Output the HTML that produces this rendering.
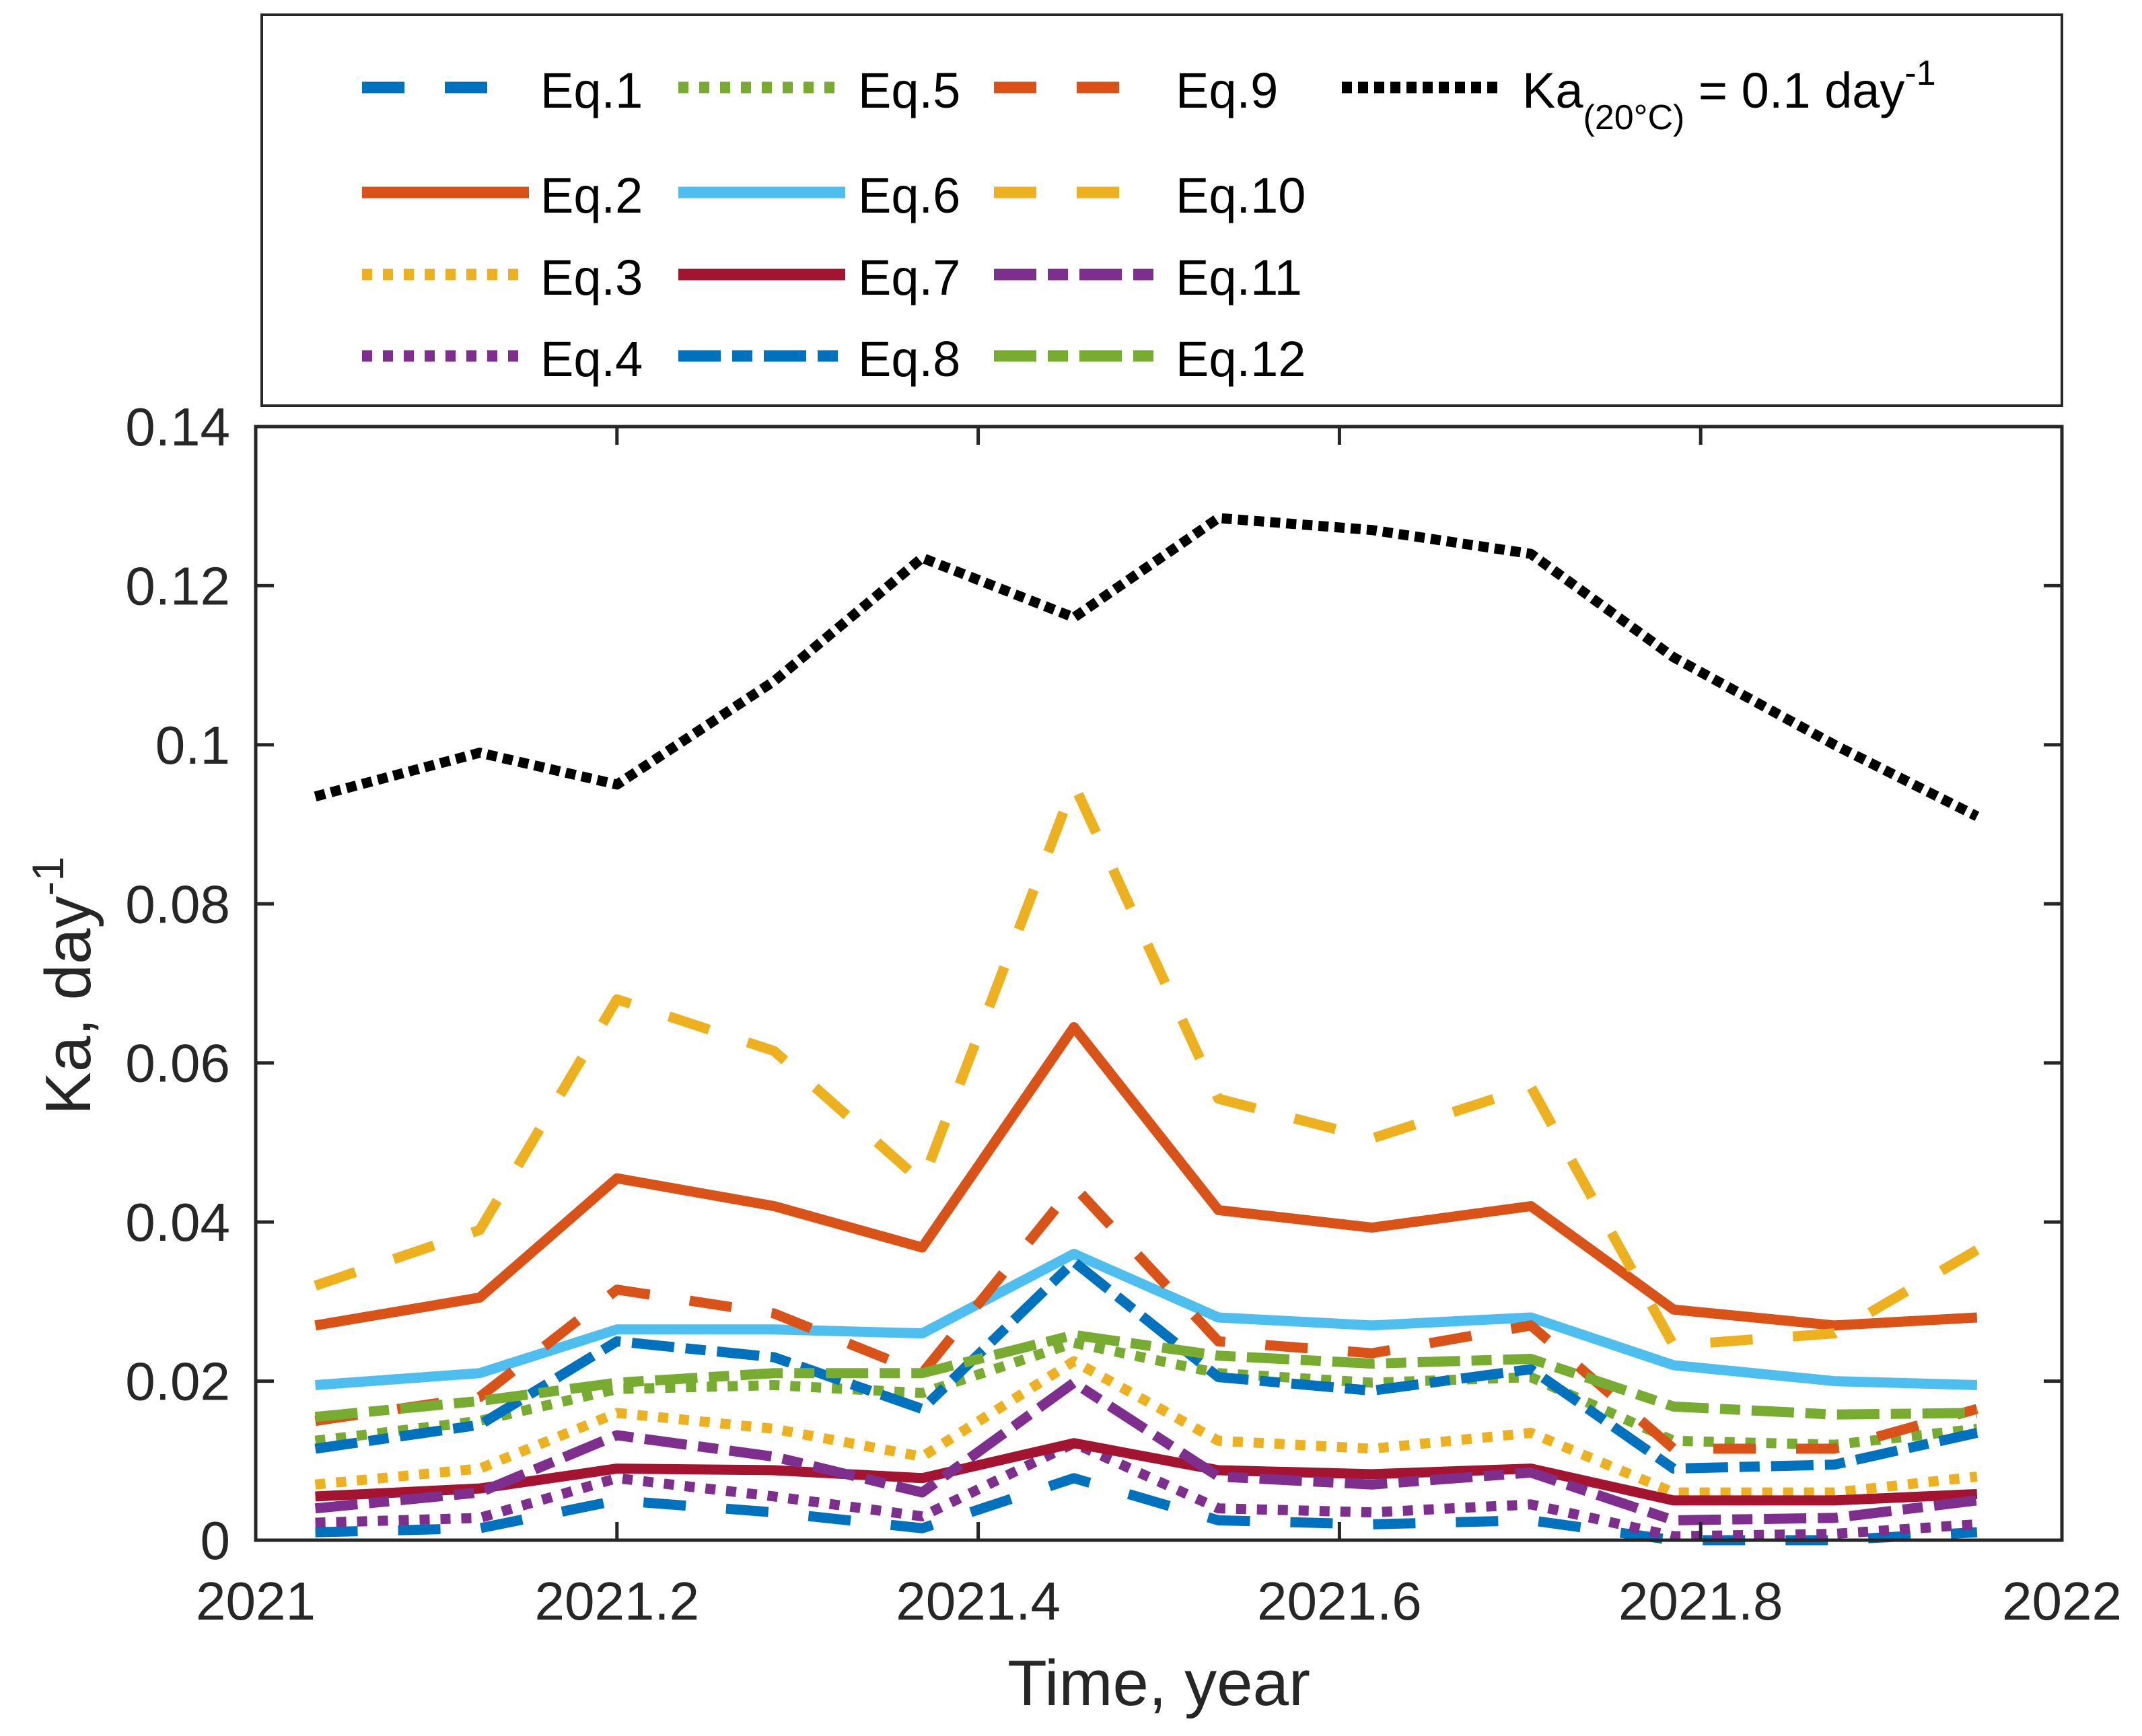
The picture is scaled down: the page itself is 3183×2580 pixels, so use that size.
<!DOCTYPE html>
<html><head><meta charset="utf-8"><style>
html,body{margin:0;padding:0;background:#fff;}
svg{display:block;font-family:"Liberation Sans",Arial,sans-serif;}
</style></head><body>
<svg id="chart" width="3183" height="2580" viewBox="0 0 3183 2580" xmlns="http://www.w3.org/2000/svg">
<rect x="0" y="0" width="3183" height="2580" fill="#fff"/>
<g id="lines"></g>
<g id="axes"></g>
<rect x="389" y="22" width="2675" height="581" fill="none" stroke="#262626" stroke-width="4"/>
<g id="legend"></g>
<text x="1722" y="2534" font-size="96" text-anchor="middle" fill="#262626">Time, year</text>
<text transform="translate(134,1465) rotate(-90)" font-size="96" text-anchor="middle" fill="#262626">Ka, day<tspan dy="-40" font-size="66">-1</tspan></text>
</svg>
<script>
const xYears = [2021.033,2021.124,2021.200,2021.287,2021.369,2021.453,2021.533,2021.618,2021.706,2021.785,2021.874,2021.953];
const xTicks = [2021,2021.2,2021.4,2021.6,2021.8,2022];
const xTickLabels = ["2021","2021.2","2021.4","2021.6","2021.8","2022"];
const yTicks = [0,0.02,0.04,0.06,0.08,0.1,0.12,0.14];
const yTickLabels = ["0","0.02","0.04","0.06","0.08","0.1","0.12","0.14"];
const seriesNames = ["Eq.1","Eq.2","Eq.3","Eq.4","Eq.5","Eq.6","Eq.7","Eq.8","Eq.9","Eq.10","Eq.11","Eq.12","Ka20"];
const eq1 = [0.001,0.0015,0.005,0.0035,0.0015,0.0078,0.0025,0.002,0.0025,0.0,0.0,0.001];
const eq2 = [0.027,0.0305,0.0455,0.042,0.0368,0.0645,0.0415,0.0393,0.042,0.029,0.027,0.028];
const eq3 = [0.007,0.009,0.016,0.014,0.0105,0.0225,0.0125,0.0115,0.0135,0.006,0.006,0.008];
const eq4 = [0.0022,0.0028,0.0078,0.0055,0.003,0.0122,0.004,0.0035,0.0045,0.0005,0.0008,0.002];
const eq5 = [0.0125,0.015,0.019,0.0195,0.0185,0.0248,0.021,0.0198,0.0205,0.0125,0.012,0.014];
const eq6 = [0.0195,0.021,0.0265,0.0265,0.026,0.036,0.028,0.027,0.028,0.022,0.020,0.0195];
const eq7 = [0.0055,0.0065,0.009,0.0088,0.0078,0.0122,0.0088,0.0083,0.009,0.005,0.005,0.0058];
const eq8 = [0.0115,0.0145,0.025,0.023,0.0165,0.035,0.0205,0.0188,0.0215,0.009,0.0095,0.0135];
const eq9 = [0.015,0.018,0.0315,0.0285,0.021,0.0445,0.025,0.0235,0.027,0.0115,0.0115,0.0165];
const eq10 = [0.032,0.039,0.068,0.0615,0.045,0.095,0.0555,0.0505,0.057,0.0245,0.026,0.0365];
const eq11 = [0.004,0.006,0.0132,0.0105,0.006,0.0198,0.008,0.007,0.0085,0.0025,0.0028,0.005];
const eq12 = [0.0155,0.0175,0.0198,0.021,0.021,0.0258,0.0232,0.0222,0.0228,0.0168,0.0158,0.016];
const ka20 = [0.0935,0.099,0.095,0.108,0.1235,0.116,0.1285,0.127,0.124,0.111,0.100,0.091];

const L=380,R=3064,T=634,B=2289;
const xs = v => L + (v-2021)*(R-L);
const ys = v => B - v/0.14*(B-T);
const NS="http://www.w3.org/2000/svg";
const C={blue:"#0072BD",orange:"#D95319",yellow:"#EDB120",purple:"#7E2F8E",green:"#77AC30",lblue:"#4DBEEE",red:"#A2142F",black:"#000"};
const DASH="63 60", DOT="15 16", DD="63 17 30 17", KDOT="15 9";
const styles = [
 [eq1,C.blue,DASH],[eq2,C.orange,null],[eq3,C.yellow,DOT],[eq4,C.purple,DOT],
 [eq5,C.green,DOT],[eq6,C.lblue,null],[eq7,C.red,null],[eq8,C.blue,DD],
 [eq9,C.orange,DASH],[eq10,C.yellow,DASH],[eq11,C.purple,DD],[eq12,C.green,DD],[ka20,C.black,KDOT]];
const lines=document.getElementById('lines');
styles.forEach((s,i)=>{
  const p=document.createElementNS(NS,'polyline');
  p.setAttribute('points', s[0].map((v,j)=>xs(xYears[j])+','+ys(v)).join(' '));
  p.setAttribute('fill','none');p.setAttribute('stroke',s[1]);p.setAttribute('stroke-width','15');
  p.setAttribute('stroke-linejoin','round');
  if(s[2]) p.setAttribute('stroke-dasharray',s[2]);
  
  
  lines.appendChild(p);
});
const axes=document.getElementById('axes');
function mk(tag,attrs,txt){const e=document.createElementNS(NS,tag);for(const k in attrs)e.setAttribute(k,attrs[k]);if(txt!==undefined)e.textContent=txt;return e;}
const frame=mk('rect',{x:L,y:T,width:R-L,height:B-T,fill:'none',stroke:'#262626','stroke-width':5});


axes.appendChild(frame);
xTicks.forEach((v,i)=>{
  const x=xs(v);
  const t1=mk('path',{d:`M${x},${B}v-27M${x},${T}v27`,stroke:'#262626','stroke-width':5});
  
  
  axes.appendChild(t1);
  const tl=mk('text',{x:x,y:2407,'font-size':80,'text-anchor':'middle',fill:'#262626'},xTickLabels[i]);
  
  
  axes.appendChild(tl);
});
yTicks.forEach((v,i)=>{
  const y=ys(v);
  const t1=mk('path',{d:`M${L},${y}h27M${R},${y}h-27`,stroke:'#262626','stroke-width':5});
  
  
  axes.appendChild(t1);
  const tl=mk('text',{x:342,y:y+28,'font-size':80,'text-anchor':'end',fill:'#262626'},yTickLabels[i]);
  
  
  axes.appendChild(tl);
});
const legend=document.getElementById('legend');
const rows=[130,286,408,529];
const cols=[[538,803],[1008,1275],[1477,1747]];
const order=[[0,4,8],[1,5,9],[2,6,10],[3,7,11]];
order.forEach((r,ri)=>r.forEach((si,ci)=>{
  const s=styles[si];const y=rows[ri];const [x0,tx]=cols[ci];
  const l=mk('line',{x1:x0,x2:x0+248,y1:y,y2:y,stroke:s[1],'stroke-width':17});
  if(s[2]) l.setAttribute('stroke-dasharray', s[2]===DASH ? "63 60 63 300" : s[2]);
  
  
  legend.appendChild(l);
  const t=mk('text',{x:tx,y:y+30,'font-size':74,fill:'#000'},seriesNames[si]);
  
  
  legend.appendChild(t);
}));
const kl=mk('line',{x1:1994,x2:2230,y1:130,y2:130,stroke:'#000','stroke-width':17,'stroke-dasharray':KDOT});


legend.appendChild(kl);
const kt=mk('text',{x:2262,y:160,'font-size':74,fill:'#000'});
kt.innerHTML='Ka<tspan dy="32" font-size="52">(20°C)</tspan><tspan dy="-32"> = 0.1 day</tspan><tspan dy="-34" font-size="52">-1</tspan>';


legend.appendChild(kt);
</script>
</body></html>
